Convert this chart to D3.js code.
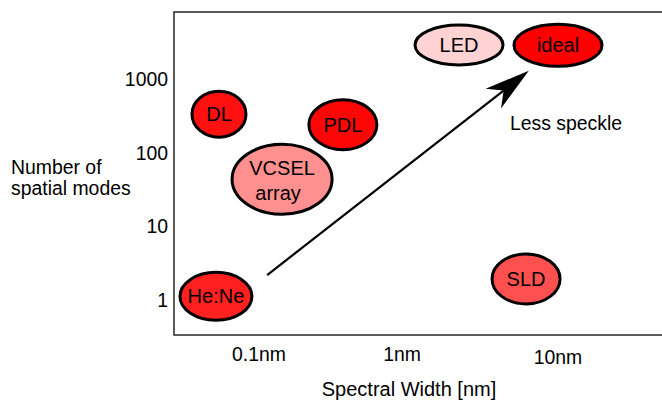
<!DOCTYPE html>
<html>
<head>
<meta charset="utf-8">
<script src="https://cdn.jsdelivr.net/npm/d3@7"></script>
<style>
  body { margin: 0; background: #fff; }
  svg { display: block; font-family: "Liberation Sans", Arial, sans-serif; }
</style>
</head>
<body>
<div id="vis"></div>
<script>
// light sources
var sources = ['LED', 'ideal', 'DL', 'PDL', 'VCSEL array', 'He:Ne', 'SLD'];
var spectralWidth = [2.32, 10, 0.0525, 0.386, 0.145, 0.05, 6.24];   // nm
var spatialModes = [2900, 2870, 333, 240, 43.5, 1.12, 1.93];
var colors = ['#ffd3d3', '#ff0000', '#ff1111', '#ff0606', '#ff9090', '#ff2020', '#ff5050'];
var radiusX = [44, 44, 27, 34, 50, 36, 34];
var radiusY = [20, 21, 23, 25, 35, 24, 25];

// axis ticks
var xTicks = [0.1, 1, 10];
var xTickLabels = ['0.1nm', '1nm', '10nm'];
var yTicks = [1, 10, 100, 1000];

// arrow annotation (data coords)
var arrowFrom = [0.114, 2.18];
var arrowTo = [6.5, 1290];

var width = 662, height = 401;
var fs = 19.4;

var svg = d3.select('#vis').append('svg')
  .attr('width', width)
  .attr('height', height);

// hand-placed log axis in the original, so piecewise
var x = d3.scaleLog().domain([0.1, 1, 10]).range([259, 402, 558]);
var y = d3.scaleLog().domain([1, 1000]).range([300, 79]);

// plot frame (right edge runs off the picture)
svg.append('rect')
  .attr('x', 174).attr('y', 12)
  .attr('width', 520).attr('height', 323)
  .attr('fill', 'none')
  .attr('stroke', '#333')
  .attr('stroke-width', 1.6);

// y tick labels
svg.selectAll('.ytick')
  .data(yTicks)
  .enter().append('text')
  .attr('class', 'ytick')
  .attr('x', 168)
  .attr('y', function (d) { return y(d) + 7; })
  .attr('text-anchor', 'end')
  .attr('font-size', fs)
  .text(function (d) { return d; });

// x tick labels
svg.selectAll('.xtick')
  .data(xTicks)
  .enter().append('text')
  .attr('class', 'xtick')
  .attr('x', function (d) { return x(d); })
  .attr('y', function (d, i) { return i === 2 ? 364 : 361; })
  .attr('text-anchor', 'middle')
  .attr('font-size', fs)
  .text(function (d, i) { return xTickLabels[i]; });

// axis titles
svg.append('text')
  .attr('x', 409).attr('y', 396)
  .attr('text-anchor', 'middle')
  .attr('font-size', 20)
  .text('Spectral Width [nm]');

svg.append('text')
  .attr('x', 11).attr('y', 174)
  .attr('font-size', fs)
  .selectAll('tspan')
  .data(['Number of', 'spatial modes'])
  .enter().append('tspan')
  .attr('x', 11)
  .attr('dy', function (d, i) { return i === 0 ? 0 : 21; })
  .text(function (d) { return d; });

// arrow
var x0 = x(arrowFrom[0]), y0 = y(arrowFrom[1]);
var x1 = x(arrowTo[0]), y1 = y(arrowTo[1]);
var ang = Math.atan2(y1 - y0, x1 - x0);
var headLen = 45, headW = 12.5, notch = 32;
function pt(along, across) {
  return [x1 + along * Math.cos(ang) - across * Math.sin(ang),
          y1 + along * Math.sin(ang) + across * Math.cos(ang)];
}
svg.append('line')
  .attr('x1', x0).attr('y1', y0)
  .attr('x2', pt(-notch, 0)[0]).attr('y2', pt(-notch, 0)[1])
  .attr('stroke', '#000')
  .attr('stroke-width', 2.2);
svg.append('path')
  .attr('d', d3.line()([pt(0, 0), pt(-headLen, -headW), pt(-notch, 0), pt(-headLen, headW)]) + 'Z')
  .attr('fill', '#000');

svg.append('text')
  .attr('x', 510).attr('y', 130)
  .attr('font-size', fs)
  .text('Less speckle');

// source ellipses
var nodes = sources.map(function (s, i) {
  return { name: s, w: spectralWidth[i], m: spatialModes[i], color: colors[i], rx: radiusX[i], ry: radiusY[i] };
});

var g = svg.selectAll('.source')
  .data(nodes)
  .enter().append('g')
  .attr('class', 'source')
  .attr('transform', function (d) { return 'translate(' + x(d.w) + ',' + y(d.m) + ')'; });

g.append('ellipse')
  .attr('rx', function (d) { return d.rx; })
  .attr('ry', function (d) { return d.ry; })
  .attr('fill', function (d) { return d.color; })
  .attr('stroke', '#000')
  .attr('stroke-width', 3);

g.append('text')
  .attr('text-anchor', 'middle')
  .attr('font-size', 20)
  .attr('fill', '#000')
  .each(function (d) {
    var lines = d.name === 'VCSEL array' ? ['VCSEL', 'array'] : [d.name];
    var t = d3.select(this);
    lines.forEach(function (l, i) {
      t.append('tspan')
        .attr('x', i === 1 ? -4 : 0)
        .attr('y', (lines.length === 1 ? 7 : -4 + i * 25))
        .text(l);
    });
  });
</script>
</body>
</html>
